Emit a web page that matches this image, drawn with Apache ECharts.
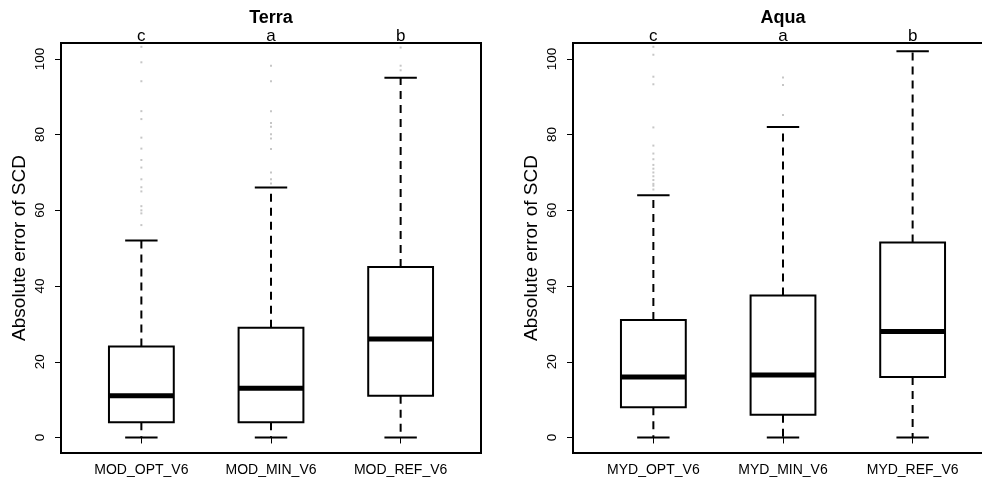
<!DOCTYPE html>
<html>
<head>
<meta charset="utf-8">
<script src="https://cdn.jsdelivr.net/npm/echarts@6/dist/echarts.min.js"></script>
<style>html,body{margin:0;padding:0;background:#fff;}#c{width:982px;height:485px;}</style>
</head>
<body>
<div id="c"></div>
<script>
// ---- data ----
const terraCats = ['MOD_OPT_V6', 'MOD_MIN_V6', 'MOD_REF_V6'];
const aquaCats = ['MYD_OPT_V6', 'MYD_MIN_V6', 'MYD_REF_V6'];
const terraLetters = ['c', 'a', 'b'];
const aquaLetters = ['c', 'a', 'b'];
const panelTitles = ['Terra', 'Aqua'];
const yTitle = 'Absolute error of SCD';
const yTicks = [0, 20, 40, 60, 80, 100];
const catPositions = [1, 2, 3];
// [lower whisker, Q1, median, Q3, upper whisker]
const terraStats = [
  [0, 4, 11, 24, 52],
  [0, 4, 13, 29, 66],
  [0, 11, 26, 45, 95]
];
const aquaStats = [
  [0, 8, 16, 31, 64],
  [0, 6, 16.5, 37.5, 82],
  [0, 16, 28, 51.5, 102]
];
const terraOutliers = [
  [103.2, 99.1, 94.1, 86.2, 84.1, 79.2, 76.3, 73.3, 71.3, 68.2, 66.1, 65.0, 61.1, 60.0, 59.2, 56.1],
  [98.2, 94.1, 86.2, 83.1, 82.1, 80.1, 79.0, 76.2, 70.0, 68.2, 67.1],
  [103.0, 98.2, 97.0]
];
const aquaOutliers = [
  [103.2, 101.1, 95.3, 93.3, 81.9, 77.1, 75.0, 73.5, 72.0, 71.0, 70.0, 69.0, 68.0, 67.0, 66.5, 65.5],
  [95.1, 93.1, 85.2],
  []
];

// ---- build ----
const panels = [
  {cats: terraCats, letters: terraLetters, stats: terraStats, outliers: terraOutliers, left: 61},
  {cats: aquaCats, letters: aquaLetters, stats: aquaStats, outliers: aquaOutliers, left: 573}
];
const font = "'Liberation Sans', Arial, sans-serif";
const XMIN = 0.38, XMAX = 3.62, YMIN = -4.1, YMAX = 104.2;

const grids = [], xAxes = [], yAxes = [], series = [];
panels.forEach((p, i) => {
  grids.push({left: p.left, top: 43, width: 420, height: 410, show: true, outerBoundsMode: 'none',
    containLabel: false,
    borderColor: '#000', borderWidth: 2, backgroundColor: 'transparent'});
  xAxes.push({gridIndex: i, type: 'value', position: 'bottom', min: XMIN, max: XMAX,
    axisLine: {show: false}, splitLine: {show: false},
    axisTick: {show: true, customValues: catPositions, length: 6, lineStyle: {color: '#000', width: 1}},
    axisLabel: {customValues: catPositions, formatter: v => p.cats[Math.round(v) - 1],
      fontSize: 14, color: '#000', margin: 10, fontFamily: font}});
  xAxes.push({gridIndex: i, type: 'value', position: 'top', min: XMIN, max: XMAX,
    axisLine: {show: false}, splitLine: {show: false}, axisTick: {show: false},
    axisLabel: {customValues: catPositions, formatter: v => p.letters[Math.round(v) - 1],
      fontSize: 17, color: '#000', margin: -2, fontFamily: font},
    name: panelTitles[i], nameLocation: 'middle', nameGap: 16, nameMoveOverlap: false,
    nameTextStyle: {fontSize: 18, fontWeight: 'bold', color: '#000', fontFamily: font}});
  yAxes.push({gridIndex: i, type: 'value', min: YMIN, max: YMAX,
    axisLine: {show: false}, splitLine: {show: false},
    axisTick: {show: true, customValues: yTicks, length: 6, lineStyle: {color: '#000', width: 1}},
    axisLabel: {customValues: yTicks, rotate: 90, fontSize: 13.5, color: '#000', margin: 14, fontFamily: font},
    name: yTitle, nameLocation: 'middle', nameRotate: 90, nameGap: 32,
    nameTextStyle: {fontSize: 19, color: '#000', fontFamily: font}});
  series.push({
    type: 'custom', xAxisIndex: i * 2, yAxisIndex: i,
    data: p.stats.map((s, k) => [catPositions[k]].concat(s)),
    renderItem: function (params, api) {
      const x = api.value(0), lo = api.value(1), q1 = api.value(2), med = api.value(3),
        q3 = api.value(4), hi = api.value(5);
      const tl = api.coord([x - 0.25, q3]), br = api.coord([x + 0.25, q1]);
      const m1 = api.coord([x - 0.25, med]), m2 = api.coord([x + 0.25, med]);
      const c3 = api.coord([x, q3]), cHi = api.coord([x, hi]);
      const c1 = api.coord([x, q1]), cLo = api.coord([x, lo]);
      const h1 = api.coord([x - 0.125, hi]), h2 = api.coord([x + 0.125, hi]);
      const l1 = api.coord([x - 0.125, lo]), l2 = api.coord([x + 0.125, lo]);
      const dash = {stroke: '#000', lineWidth: 2, lineDash: [8, 6], fill: null};
      const solid = {stroke: '#000', lineWidth: 2, fill: null};
      return {type: 'group', children: [
        {type: 'line', shape: {x1: c3[0], y1: c3[1], x2: cHi[0], y2: cHi[1]}, style: dash},
        {type: 'line', shape: {x1: c1[0], y1: c1[1], x2: cLo[0], y2: cLo[1]}, style: dash},
        {type: 'line', shape: {x1: h1[0], y1: h1[1], x2: h2[0], y2: h2[1]}, style: solid},
        {type: 'line', shape: {x1: l1[0], y1: l1[1], x2: l2[0], y2: l2[1]}, style: solid},
        {type: 'rect', shape: {x: tl[0], y: tl[1], width: br[0] - tl[0], height: br[1] - tl[1]},
          style: {fill: '#fff', stroke: '#000', lineWidth: 2}},
        {type: 'line', shape: {x1: m1[0], y1: m1[1], x2: m2[0], y2: m2[1]},
          style: {stroke: '#000', lineWidth: 5}}
      ]};
    },
    silent: true, z: 2
  });
  const pts = [];
  p.outliers.forEach((arr, k) => arr.forEach(v => pts.push([catPositions[k], v])));
  series.push({type: 'scatter', xAxisIndex: i * 2, yAxisIndex: i, data: pts,
    symbol: 'rect', symbolSize: 2, itemStyle: {color: '#b8b8b8'}, silent: true, z: 3});
});

const chart = echarts.init(document.getElementById('c'), null, {renderer: 'canvas'});
chart.setOption({
  animation: false,
  backgroundColor: '#fff',
  textStyle: {fontFamily: font},
  grid: grids, xAxis: xAxes, yAxis: yAxes, series: series
});
</script>
</body>
</html>
